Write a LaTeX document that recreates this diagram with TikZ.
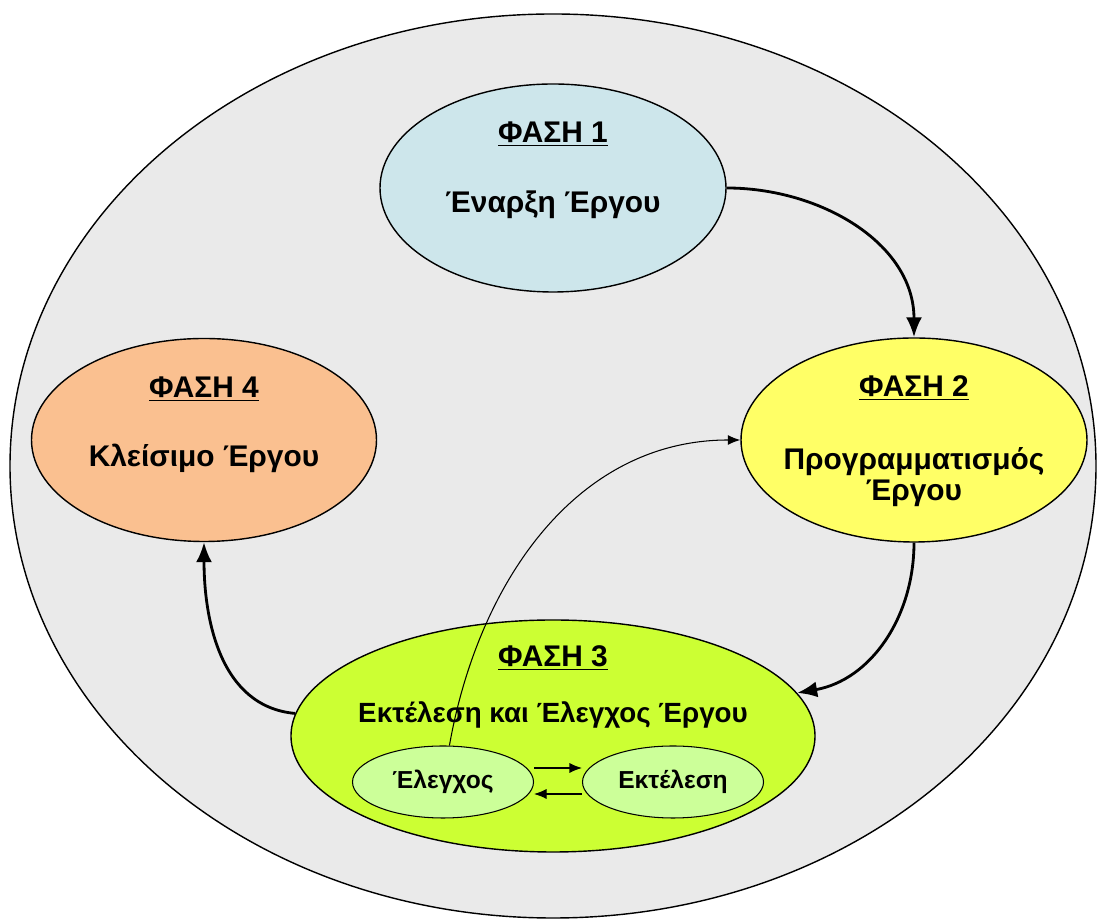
\documentclass[tikz,border=0pt]{standalone}
\usepackage{fontspec}
\setmainfont{Liberation Sans}
\usetikzlibrary{arrows.meta,shapes.geometric}
\definecolor{bggray}{HTML}{EAEAEA}
\definecolor{phaseblue}{HTML}{CDE6EB}
\definecolor{phaseyellow}{HTML}{FFFF66}
\definecolor{phaseorange}{HTML}{FAC090}
\definecolor{phaselime}{HTML}{CCFF33}
\definecolor{sublime}{HTML}{CCFF99}

\begin{document}
\begin{tikzpicture}
\useasboundingbox (0,0) rectangle (21.96,18.42);
\node[ellipse,draw,thick,fill=bggray,minimum width=21.72cm,minimum height=18.08cm] (bg) at (11.06,9.10) {};
\begin{scope}[every node/.style={ellipse,draw,thick,inner sep=0pt}]
    \node[fill=phaseblue,minimum width=6.92cm,minimum height=4.16cm] (v1) at (11.06,14.66) {};
    \node[fill=phaseyellow,minimum width=6.92cm,minimum height=4.08cm] (v2) at (18.28,9.62) {};
    \node[fill=phaselime,minimum width=10.48cm,minimum height=4.64cm] (v3) at (11.06,3.70) {};
    \node[fill=phaseorange,minimum width=6.9cm,minimum height=4.06cm] (v4) at (4.08,9.62) {};
\end{scope}
\begin{scope}[every node/.style={ellipse,draw,semithick,fill=sublime,inner sep=0pt,
              minimum width=3.62cm,minimum height=1.44cm,font=\fontsize{14}{16}\selectfont\bfseries}]
    \node (s1) at (8.86,2.78) {Έλεγχος};
    \node (s2) at (13.46,2.78) {Εκτέλεση};
\end{scope}
\begin{scope}[every node/.style={font=\fontsize{17}{18}\selectfont\bfseries,align=center}]
    \node (t1) at (11.06,15.74) {\underline{ΦΑΣΗ 1}};
    \node (n1) at (11.06,14.32) {Έναρξη Έργου};
    \node (t2) at (18.28,10.66) {\underline{ΦΑΣΗ 2}};
    \node (n2) at (18.28,8.88) {Προγραμματισμός\\Έργου};
    \node (t3) at (11.06,5.26) {\underline{ΦΑΣΗ 3}};
    \node[font=\fontsize{15.8}{18}\selectfont\bfseries] (n3) at (11.06,4.12) {Εκτέλεση και Έλεγχος Έργου};
    \node (t4) at (4.08,10.64) {\underline{ΦΑΣΗ 4}};
    \node (n4) at (4.08,9.26) {Κλείσιμο Έργου};
\end{scope}
\begin{scope}[every edge/.style={draw=black,line width=1.6pt,-{Latex[length=0.4cm,width=0.32cm]}}]
    \path (v1) edge[out=0,in=90] (v2);
    \path (v2) edge[out=-90,in=10] (v3);
    \path (v3) edge[out=175,in=-90] (v4);
\end{scope}
\begin{scope}[every edge/.style={draw=black,semithick,-{Latex[length=0.25cm,width=0.2cm]}}]
    \path (s1) edge[out=80,in=180] (v2);
    \path ([yshift=0.28cm]s1.east) edge ([yshift=0.28cm]s2.west);
    \path ([yshift=-0.24cm]s2.west) edge ([yshift=-0.24cm]s1.east);
\end{scope}
\end{tikzpicture}
\end{document}
